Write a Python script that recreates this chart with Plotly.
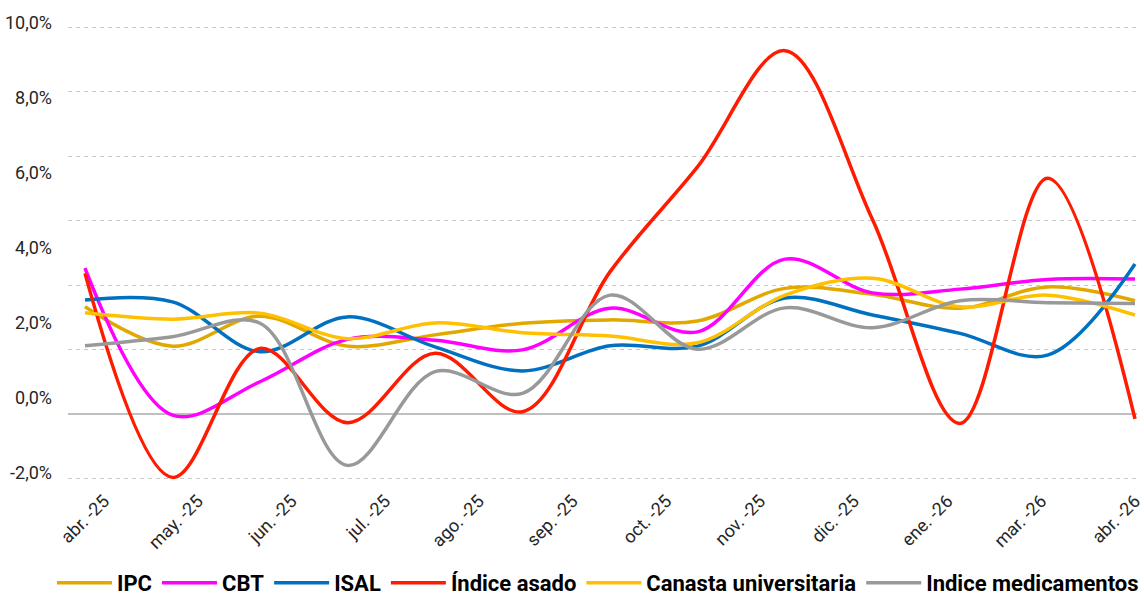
import plotly.graph_objects as go

# 13 monthly observations (abr-25 ... abr-26); the printed axis shows 12 labels (feb omitted)
months = ["abr-25", "may-25", "jun-25", "jul-25", "ago-25", "sep-25", "oct-25",
          "nov-25", "dic-25", "ene-26", "feb-26", "mar-26", "abr-26"]

ipc = [2.42, 1.37, 2.17, 1.37, 1.67, 1.98, 2.07, 2.04, 2.91, 2.75, 2.38, 2.95, 2.58]
cbt = [3.45, -0.47, 0.42, 1.55, 1.53, 1.27, 2.38, 1.75, 3.69, 2.79, 2.89, 3.15, 3.16]
isal = [2.60, 2.55, 1.22, 2.15, 1.35, 0.71, 1.38, 1.37, 2.65, 2.20, 1.71, 1.13, 3.56]
asado = [3.31, -2.13, 1.31, -0.67, 1.18, -0.38, 3.35, 6.15, 9.25, 4.75, -0.69, 5.85, -0.57]
canasta = [2.26, 2.09, 2.25, 1.57, 1.99, 1.73, 1.64, 1.46, 2.73, 3.18, 2.42, 2.73, 2.20]
medicamentos = [1.38, 1.62, 1.98, -1.81, 0.69, 0.11, 2.73, 1.29, 2.39, 1.86, 2.58, 2.53, 2.51]

x_labels = ["abr. -25", "may. -25", "jun. -25", "jul. -25", "ago. -25", "sep. -25",
            "oct. -25", "nov. -25", "dic. -25", "ene. -26", "mar. -26", "abr. -26"]
y_tick_values = [-2, 0, 2, 4, 6, 8, 10]
y_tick_labels = ["-2,0%", "0,0%", "2,0%", "4,0%", "6,0%", "8,0%", "10,0%"]

series = [
    ("IPC", ipc, "#E1A800"),
    ("CBT", cbt, "#FF00FF"),
    ("ISAL", isal, "#0070C0"),
    ("Índice asado", asado, "#FF1A00"),
    ("Canasta universitaria", canasta, "#FFC000"),
    ("Indice medicamentos", medicamentos, "#999999"),
]

FONT = "Roboto, Liberation Sans, sans-serif"

xidx = list(range(len(months)))
fig = go.Figure()
for name, vals, color in series:
    fig.add_trace(go.Scatter(
        x=xidx, y=vals, name=name, mode="lines",
        line=dict(color=color, width=3.5, shape="spline", smoothing=1.0),
        customdata=months, hovertemplate="%{customdata}: %{y:.2f}%<extra>" + name + "</extra>",
    ))

# empty helper trace so the gridline axis (yaxis2) gets drawn
fig.add_trace(go.Scatter(x=[], y=[], yaxis="y2", showlegend=False, hoverinfo="skip"))

# printed month labels are spaced slightly wider than the data points
lab_first, lab_step = 0.217, 1.0712
label_pos = [lab_first + lab_step * j for j in range(len(x_labels))]

fig.update_layout(
    width=1144, height=597,
    margin=dict(l=68, r=7, t=20, b=111, autoexpand=False),
    paper_bgcolor="white", plot_bgcolor="white",
    font=dict(family=FONT, color="#262626", size=18),
    showlegend=True,
    legend=dict(
        orientation="h", x=-0.015, xanchor="left", y=-0.208, yanchor="middle",
        font=dict(family=FONT, size=22, color="#000000", weight="bold"),
        itemwidth=55, tracegroupgap=0, bgcolor="rgba(0,0,0,0)",
    ),
    xaxis=dict(
        range=[-0.194, 12.023], tickmode="array", tickvals=label_pos, ticktext=x_labels,
        tickangle=-45, showgrid=False, zeroline=False, showline=False, ticks="",
        tickfont=dict(family=FONT, size=18, color="#262626"), ticklabelstandoff=0,
        ticklabeloverflow="allow", automargin=False,
    ),
    yaxis=dict(
        range=[-2.36, 10.067], tickmode="array", tickvals=y_tick_values, ticktext=y_tick_labels,
        showgrid=False, zeroline=False, showline=False, ticks="",
        tickfont=dict(family=FONT, size=18, color="#262626"), ticklabelstandoff=15,
        automargin=False,
    ),
    yaxis2=dict(
        overlaying="y", anchor="x", side="left",
        range=[-2.235, 12.23], dtick=2, tick0=0,
        showgrid=True, gridcolor="#C8C8C8", griddash="4px,4px", gridwidth=1.2,
        zeroline=True, zerolinecolor="#BFBFBF", zerolinewidth=2,
        showticklabels=False, ticks="", showline=False, automargin=False,
    ),
)

fig.write_html(
    "out.html",
    config={"displayModeBar": False},
    post_script="document.body.style.margin='0';document.body.style.padding='0';",
)
